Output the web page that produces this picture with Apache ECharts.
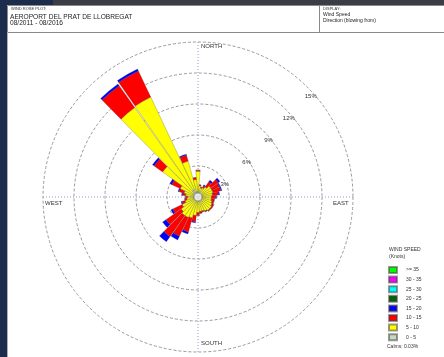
<!DOCTYPE html>
<html>
<head>
<meta charset="utf-8">
<title>Wind rose</title>
<script src="https://cdn.jsdelivr.net/npm/echarts@6/dist/echarts.min.js"></script>
<style>
  html, body { margin: 0; padding: 0; background: #ffffff; }
  #chart { width: 444px; height: 357px; }
</style>
</head>
<body>
<div id="chart"></div>
<script>
// Compass bearings (degrees, direction the wind blows from), 10° sectors
const bearings = [0, 10, 20, 30, 40, 50, 60, 70, 80, 90, 100, 110, 120, 130, 140, 150, 160, 170,
                  180, 190, 200, 210, 220, 230, 240, 250, 260, 270, 280, 290, 300, 310, 320, 330, 340, 350];

// Frequency (%) per sector for each wind-speed class (knots)
const speed0to5   = [0.6, 0.5, 0.4, 0.4, 0.4, 0.4, 0.4, 0.4, 0.4, 0.4, 0.4, 0.4, 0.4, 0.4, 0.4, 0.4, 0.4, 0.4,
                     0.4, 0.4, 0.4, 0.4, 0.4, 0.4, 0.4, 0.4, 0.4, 0.4, 0.4, 0.4, 0.5, 0.6, 0.8, 0.8, 0.5, 0.5];
const speed5to10  = [1.9, 0.6, 0.5, 0.6, 0.8, 1.1, 1.1, 1.1, 1.0, 0.9, 0.9, 1.0, 1.1, 1.2, 1.2, 1.1, 1.0, 1.0,
                     1.1, 1.4, 1.7, 1.8, 1.8, 1.6, 1.3, 0.9, 0.7, 0.6, 0.8, 1.0, 1.4, 3.6, 9.8, 9.9, 3.1, 1.2];
const speed10to15 = [0.1, 0.1, 0.1, 0.2, 0.6, 0.9, 0.8, 0.8, 0.6, 0.4, 0.3, 0.2, 0.2, 0.1, 0.1, 0.1, 0.1, 0.2,
                     0.3, 0.6, 1.4, 2.0, 2.5, 1.8, 1.0, 0.3, 0.2, 0.2, 0.3, 0.5, 0.9, 1.0, 2.6, 2.8, 0.6, 0.2];
const speed15to20 = [0.0, 0.0, 0.0, 0.1, 0.2, 0.2, 0.1, 0.1, 0.1, 0.1, 0.0, 0.0, 0.0, 0.0, 0.0, 0.0, 0.0, 0.0,
                     0.0, 0.1, 0.2, 0.4, 0.6, 0.4, 0.2, 0.1, 0.0, 0.0, 0.1, 0.1, 0.2, 0.2, 0.2, 0.2, 0.1, 0.0];
const speed20to25 = [];
const speed25to30 = [];
const speed30to35 = [];
const speed35plus = [];

// Speed classes, innermost first
const classNames  = ['0 - 5', '5 - 10', '10 - 15', '15 - 20', '20 - 25', '25 - 30', '30 - 35', '>= 35'];
const classValues = [speed0to5, speed5to10, speed10to15, speed15to20, speed20to25, speed25to30, speed30to35, speed35plus];
const classColors = ['#c4d9c4', '#ffff00', '#ff0000', '#0000ff', '#006400', '#00ffff', '#ff00ff', '#00ff00'];

// Frequency rings and their labels
const ringMax = 15;
const ringStep = 3;
const calmsText = 'Calms: 0.03%';

const font = 'Liberation Sans, Arial, sans-serif';
const cx = 198, cy = 197, R = 155;

const chart = echarts.init(document.getElementById('chart'), null, { renderer: 'canvas' });

const barSeries = classNames.map((name, k) => ({
  name: name,
  type: 'bar',
  coordinateSystem: 'polar',
  polarIndex: 2,
  stack: 'rose',
  data: classValues[k],
  barCategoryGap: '6%',
  itemStyle: { color: classColors[k], borderColor: 'rgba(70,70,70,0.55)', borderWidth: 0.5 },
  emphasis: { disabled: true },
  animation: false,
  z: 3
}));

// small white calm circle at the rose centre
barSeries.push({
  type: 'scatter',
  coordinateSystem: 'polar',
  polarIndex: 2,
  data: [[0, 0]],
  symbolSize: 8,
  itemStyle: { color: '#ffffff', borderColor: '#888888', borderWidth: 0.8 },
  silent: true,
  animation: false,
  z: 10
});

const small = (x, y, text, size, color) => ({
  type: 'text', left: x, top: y, silent: true,
  style: { text: text, fill: color || '#333333', font: size + 'px ' + font }
});

chart.setOption({
  animation: false,
  backgroundColor: '#ffffff',
  polar: [
    { center: [cx, cy], radius: R },
    { center: [cx, cy], radius: R },
    { center: [cx, cy], radius: R }
  ],
  angleAxis: [
    {
      polarIndex: 0, type: 'value', min: 0, max: 360, interval: 90,
      startAngle: 90, clockwise: true,
      axisLine: { show: false }, axisTick: { show: false }, axisLabel: { show: false },
      splitLine: { show: true, lineStyle: { color: '#8e9acb', width: 1, type: [1, 2] } }
    },
    {
      polarIndex: 1, type: 'value', min: 0, max: 360, startAngle: 45,
      axisLine: { show: false }, axisTick: { show: false }, axisLabel: { show: false },
      splitLine: { show: false }
    },
    {
      polarIndex: 2, type: 'category', data: bearings, startAngle: 95, clockwise: true,
      axisLine: { show: false }, axisTick: { show: false }, axisLabel: { show: false },
      splitLine: { show: false }
    }
  ],
  radiusAxis: [
    {
      polarIndex: 0, min: 0, max: ringMax, interval: ringStep,
      axisLine: { show: false }, axisTick: { show: false }, axisLabel: { show: false },
      splitLine: { show: true, lineStyle: { color: '#9a9a9a', width: 1, type: [3, 2] } }
    },
    {
      polarIndex: 1, min: 0, max: ringMax, interval: ringStep,
      axisLine: { show: false }, axisTick: { show: false },
      splitLine: { show: false },
      axisLabel: {
        show: true, margin: -13, fontSize: 6, color: '#333333', fontFamily: font,
        formatter: v => (v > 0 ? v + '%' : '')
      }
    },
    {
      polarIndex: 2, min: 0, max: ringMax,
      axisLine: { show: false }, axisTick: { show: false }, axisLabel: { show: false },
      splitLine: { show: false }
    }
  ],
  legend: {
    data: classNames.slice().reverse(),
    orient: 'vertical',
    left: 388, top: 266,
    itemWidth: 8, itemHeight: 6, itemGap: 1.6,
    icon: 'rect',
    selectedMode: false,
    textStyle: { fontSize: 5, color: '#333333', fontFamily: font, padding: [0, 0, 0, 4] },
    padding: 0
  },
  graphic: [
    // page surround
    { type: 'rect', shape: { x: 0, y: 0, width: 444, height: 5 }, style: { fill: '#3a3d43' }, silent: true },
    { type: 'rect', shape: { x: 0, y: 0, width: 53, height: 5 }, style: { fill: '#1b2c4c' }, silent: true },
    { type: 'rect', shape: { x: 0, y: 0, width: 7, height: 357 }, style: { fill: '#1b2c4c' }, silent: true },
    // header box
    { type: 'rect', shape: { x: 7.5, y: 5.5, width: 440, height: 27 }, style: { fill: 'none', stroke: '#8a8a8a', lineWidth: 1 }, silent: true },
    { type: 'line', shape: { x1: 7.5, y1: 32.5, x2: 7.5, y2: 357 }, style: { stroke: '#b0b0b0', lineWidth: 1 }, silent: true },
    { type: 'line', shape: { x1: 319.5, y1: 5.5, x2: 319.5, y2: 32.5 }, style: { stroke: '#8a8a8a', lineWidth: 1 }, silent: true },
    small(11, 7, 'WIND ROSE PLOT:', 4),
    small(10, 13.5, 'AEROPORT DEL PRAT DE LLOBREGAT', 6.6, '#222222'),
    small(10, 19.5, '08/2011 - 08/2016', 6.6, '#222222'),
    small(323, 7, 'DISPLAY:', 4),
    small(323, 12.5, 'Wind Speed', 5, '#222222'),
    small(323, 18.5, 'Direction (blowing from)', 5, '#222222'),
    // compass labels
    small(201, 43, 'NORTH', 6),
    small(201, 340, 'SOUTH', 6),
    small(45, 200, 'WEST', 6),
    small(333, 200, 'EAST', 6),
    // legend heading and calms
    small(389, 247.5, 'WIND SPEED', 5),
    small(389, 254, '(Knots)', 5),
    small(387, 344.5, calmsText, 5)
  ],
  series: barSeries
});
</script>
</body>
</html>
